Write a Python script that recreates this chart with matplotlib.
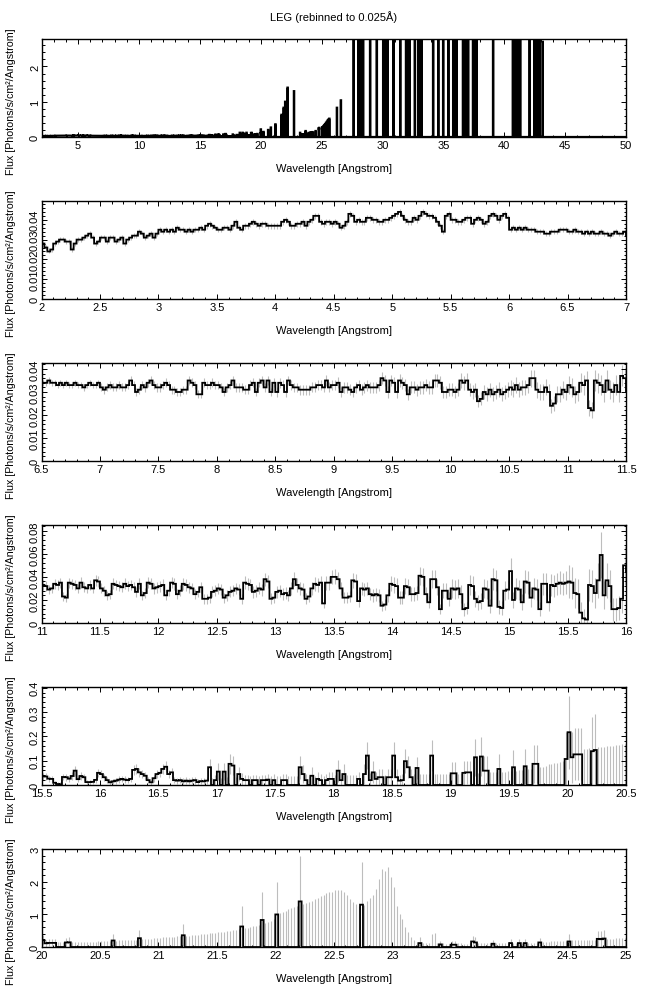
import numpy as np
import matplotlib
matplotlib.use("Agg")
import matplotlib.pyplot as plt
from matplotlib.ticker import MultipleLocator, FuncFormatter

plt.rcParams['font.family'] = ['Liberation Sans', 'DejaVu Sans']

BIN = 0.025  # Angstrom

# ---------------- data ----------------
# Segment A: 2.000-6.975 A, flux in 1e-3 ph/s/cm2/A, error in 1e-4
flux_a = [
    28, 26, 24, 25, 28, 29, 30, 30, 29, 29, 25, 28, 30, 30, 31, 32, 33, 31, 28, 29,
    31, 31, 29, 31, 31, 29, 30, 31, 28, 30, 31, 32, 32, 34, 33, 31, 32, 33, 31, 33,
    35, 34, 35, 34, 35, 34, 36, 35, 35, 34, 35, 34, 35, 35, 36, 35, 37, 38, 37, 36,
    35, 35, 36, 36, 35, 37, 39, 36, 35, 37, 37, 38, 39, 38, 37, 38, 38, 37, 37, 37,
    37, 37, 39, 40, 39, 37, 37, 38, 38, 39, 37, 39, 40, 42, 42, 39, 38, 39, 39, 38,
    39, 38, 36, 37, 39, 43, 42, 39, 40, 39, 39, 41, 41, 40, 40, 39, 39, 40, 40, 41,
    42, 43, 44, 42, 40, 39, 39, 41, 40, 42, 44, 43, 42, 42, 41, 39, 37, 34, 42, 43,
    40, 40, 39, 39, 40, 41, 41, 38, 40, 41, 40, 38, 39, 42, 43, 42, 40, 42, 43, 41,
    35, 36, 35, 36, 35, 36, 35, 35, 35, 34, 34, 34, 33, 33, 34, 34, 34, 35, 35, 35,
    34, 34, 35, 34, 34, 33, 34, 33, 34, 33, 33, 34, 33, 33, 32, 33, 34, 33, 33, 34]
err_a = [
    11, 11, 10, 11, 11, 12, 12, 12, 11, 11, 11, 11, 12, 12, 12, 12, 12, 12, 11, 11,
    12, 12, 11, 12, 12, 11, 12, 12, 11, 12, 12, 12, 12, 13, 12, 12, 12, 12, 12, 12,
    13, 13, 13, 13, 13, 13, 13, 13, 13, 13, 13, 13, 13, 13, 13, 13, 14, 14, 14, 13,
    13, 13, 14, 14, 13, 14, 14, 14, 13, 14, 14, 14, 14, 14, 14, 14, 14, 14, 14, 14,
    14, 14, 14, 15, 14, 14, 14, 14, 14, 14, 14, 14, 15, 15, 15, 14, 14, 14, 14, 14,
    15, 14, 14, 14, 15, 15, 15, 15, 15, 15, 15, 15, 15, 15, 15, 15, 15, 15, 15, 15,
    15, 16, 16, 15, 15, 15, 15, 15, 15, 15, 16, 16, 15, 15, 15, 15, 15, 14, 15, 16,
    15, 15, 15, 15, 15, 15, 15, 15, 15, 15, 15, 15, 15, 16, 16, 16, 15, 15, 16, 15,
    14, 14, 14, 14, 14, 14, 14, 14, 14, 14, 14, 14, 14, 14, 14, 14, 14, 14, 14, 14,
    14, 14, 15, 14, 14, 14, 14, 14, 14, 14, 14, 14, 14, 14, 14, 14, 14, 14, 14, 14]

# Segment B: 7.000-10.975 A (1e-3 / 1e-4)
flux_b = [
    32, 31, 32, 33, 32, 32, 33, 32, 32, 33, 35, 33, 30, 31, 33, 32, 34, 35, 33, 32,
    32, 33, 34, 33, 31, 31, 30, 30, 31, 31, 35, 34, 33, 29, 29, 34, 33, 33, 34, 33,
    33, 32, 30, 32, 33, 35, 32, 32, 32, 31, 31, 33, 34, 30, 34, 35, 32, 35, 30, 34,
    30, 34, 33, 30, 35, 33, 32, 32, 31, 31, 31, 31, 32, 32, 33, 33, 32, 35, 32, 33,
    33, 34, 30, 32, 32, 31, 30, 32, 33, 31, 32, 33, 32, 32, 32, 33, 36, 35, 30, 35,
    34, 30, 35, 34, 33, 29, 32, 32, 31, 32, 32, 33, 32, 32, 35, 35, 34, 30, 30, 31,
    31, 30, 31, 35, 34, 35, 31, 30, 31, 26, 27, 30, 29, 31, 29, 30, 31, 29, 30, 31,
    32, 31, 33, 31, 32, 32, 33, 36, 36, 31, 30, 30, 32, 30, 24, 25, 29, 29, 31, 30]
err_b = [
    17, 17, 17, 18, 17, 17, 18, 17, 17, 18, 18, 18, 17, 17, 18, 18, 18, 18, 18, 18,
    18, 18, 19, 18, 18, 18, 18, 18, 18, 18, 19, 19, 19, 18, 18, 19, 19, 19, 19, 19,
    19, 19, 19, 19, 19, 20, 19, 19, 19, 19, 19, 20, 20, 19, 20, 20, 20, 20, 19, 20,
    20, 21, 21, 20, 21, 21, 21, 21, 21, 21, 21, 21, 22, 22, 22, 22, 22, 22, 22, 22,
    23, 23, 22, 23, 23, 23, 22, 23, 24, 23, 23, 24, 24, 24, 24, 24, 26, 26, 24, 26,
    26, 25, 27, 26, 26, 25, 26, 26, 26, 27, 27, 27, 27, 27, 28, 28, 28, 27, 27, 28,
    28, 28, 29, 31, 30, 31, 29, 29, 30, 27, 28, 30, 30, 31, 30, 31, 32, 31, 32, 33,
    33, 33, 34, 33, 34, 34, 35, 37, 37, 34, 34, 34, 35, 35, 31, 32, 35, 35, 36, 36]

# Segment C: 11.000-15.475 A (1e-3 / 1e-4)
flux_c = [
    33, 32, 29, 30, 34, 33, 35, 23, 22, 35, 34, 33, 30, 35, 31, 30, 33, 30, 37, 36,
    30, 28, 24, 25, 34, 33, 32, 31, 34, 32, 33, 31, 27, 34, 24, 26, 35, 34, 30, 31,
    32, 33, 24, 28, 35, 34, 25, 28, 34, 33, 31, 30, 25, 27, 31, 21, 21, 22, 27, 28,
    30, 29, 22, 24, 27, 28, 30, 29, 21, 35, 34, 33, 27, 28, 30, 29, 38, 36, 21, 22,
    27, 28, 25, 26, 24, 30, 38, 33, 30, 29, 21, 23, 30, 34, 33, 35, 17, 35, 35, 40,
    40, 38, 30, 22, 22, 23, 37, 36, 19, 30, 29, 30, 25, 24, 25, 24, 15, 16, 24, 34,
    33, 32, 22, 22, 32, 31, 25, 25, 26, 41, 40, 25, 18, 38, 38, 31, 12, 28, 28, 21,
    30, 29, 30, 25, 12, 13, 33, 32, 21, 18, 19, 30, 29, 15, 38, 37, 14, 13, 28, 29,
    45, 20, 30, 29, 18, 36, 35, 22, 30, 29, 12, 34, 34, 18, 33, 32, 34, 35, 34, 35]
err_c = [
    40, 40, 38, 40, 42, 42, 43, 36, 35, 44, 44, 43, 42, 45, 42, 42, 44, 42, 46, 46,
    43, 42, 40, 40, 46, 45, 45, 45, 46, 45, 46, 45, 43, 47, 41, 42, 48, 48, 45, 46,
    47, 48, 42, 45, 50, 50, 44, 46, 50, 50, 49, 48, 45, 46, 49, 42, 42, 43, 47, 48,
    50, 50, 44, 46, 48, 49, 50, 50, 44, 55, 54, 54, 50, 51, 52, 52, 58, 57, 46, 47,
    52, 53, 51, 52, 50, 55, 62, 58, 56, 55, 48, 50, 56, 60, 58, 60, 42, 60, 60, 64,
    65, 64, 58, 50, 50, 51, 64, 63, 47, 58, 57, 58, 54, 54, 55, 54, 44, 45, 55, 64,
    70, 68, 58, 58, 70, 69, 62, 62, 63, 80, 78, 62, 52, 78, 77, 70, 46, 66, 66, 60,
    80, 80, 82, 76, 55, 56, 86, 85, 70, 65, 66, 83, 82, 60, 95, 94, 60, 58, 82, 84,
    115, 70, 88, 87, 70, 98, 97, 78, 88, 88, 60, 96, 96, 72, 95, 94, 96, 98, 96, 98]

# Segment D: 15.500-19.975 A (flux and error in 1e-3)
flux_d = [
    36, 35, 26, 25, 9, 4, 3, 33, 32, 26, 37, 59, 24, 37, 32, 12, 12, 13, 21, 50,
    45, 32, 20, 11, 15, 18, 22, 25, 22, 20, 25, 62, 66, 52, 45, 38, 20, 11, 28, 45,
    50, 66, 75, 45, 52, 20, 18, 20, 15, 18, 15, 18, 20, 12, 16, 15, 18, 73, 0, 20,
    55, 0, 55, 0, 87, 80, 0, 45, 25, 20, 20, 0, 20, 20, 0, 20, 20, 22, 0, 20,
    0, 0, 20, 20, 0, 0, 0, 0, 73, 45, 20, 0, 38, 0, 25, 20, 0, 20, 25, 25,
    0, 59, 20, 45, 0, 0, 0, 0, 25, 0, 45, 121, 20, 52, 25, 32, 32, 0, 32, 32,
    121, 32, 18, 20, 98, 73, 32, 0, 70, 0, 0, 0, 0, 121, 0, 0, 0, 0, 0, 0,
    48, 48, 0, 0, 50, 52, 52, 0, 114, 0, 117, 59, 59, 0, 0, 0, 66, 0, 0, 0,
    0, 73, 0, 0, 0, 77, 0, 0, 87, 87, 0, 0, 0, 0, 0, 0, 0, 0, 0, 107]
err_d = [
    14, 14, 13, 13, 9, 8, 8, 14, 14, 13, 15, 20, 12, 15, 14, 10, 10, 10, 12, 17,
    16, 14, 12, 9, 11, 12, 13, 14, 13, 12, 14, 20, 21, 19, 17, 16, 12, 9, 14, 17,
    18, 21, 23, 18, 19, 13, 12, 13, 12, 13, 12, 13, 14, 11, 12, 12, 14, 35, 30, 20,
    35, 30, 35, 32, 42, 40, 32, 30, 25, 22, 22, 35, 22, 22, 35, 22, 22, 24, 36, 24,
    36, 36, 25, 25, 37, 37, 38, 38, 48, 38, 25, 38, 35, 38, 28, 25, 38, 25, 28, 28,
    40, 45, 28, 40, 40, 40, 40, 40, 30, 42, 42, 55, 28, 45, 30, 32, 32, 42, 32, 32,
    56, 33, 25, 26, 50, 45, 33, 44, 45, 44, 44, 45, 45, 62, 45, 45, 46, 46, 46, 47,
    45, 45, 47, 48, 48, 48, 48, 50, 76, 50, 80, 59, 59, 52, 52, 53, 62, 54, 55, 56,
    57, 69, 58, 60, 62, 71, 64, 66, 79, 79, 72, 75, 80, 85, 88, 90, 92, 95, 98, 110]

# Segment E: 20.000-24.975 A (flux and error in 1e-3)
flux_e = [
    217, 114, 126, 126, 126, 0, 0, 0, 139, 144, 0, 0, 0, 0, 0, 0, 0, 0, 0, 0,
    0, 0, 0, 0, 200, 0, 0, 0, 0, 0, 0, 0, 0, 270, 0, 0, 0, 0, 0, 0,
    0, 0, 0, 0, 0, 0, 0, 0, 360, 0, 0, 0, 0, 0, 0, 0, 0, 0, 0, 0,
    0, 0, 0, 0, 0, 0, 0, 0, 630, 0, 0, 0, 0, 0, 0, 830, 0, 0, 0, 0,
    1000, 0, 0, 0, 0, 0, 0, 0, 1400, 0, 0, 0, 0, 0, 0, 0, 0, 0, 0, 0,
    0, 0, 0, 0, 0, 0, 0, 0, 0, 1300, 0, 0, 0, 0, 0, 0, 0, 0, 0, 0,
    0, 0, 0, 0, 0, 0, 0, 0, 0, 120, 0, 0, 0, 0, 0, 0, 80, 0, 0, 0,
    70, 70, 0, 0, 0, 0, 0, 170, 140, 0, 0, 0, 0, 0, 100, 0, 0, 0, 0, 0,
    120, 0, 0, 120, 0, 120, 0, 0, 0, 0, 140, 0, 0, 0, 0, 0, 0, 0, 0, 0,
    170, 0, 0, 0, 0, 0, 0, 0, 0, 0, 250, 240, 260, 0, 0, 0, 0, 0, 0, 0]
err_e = [
    150, 105, 107, 107, 107, 150, 150, 152, 140, 149, 155, 156, 158, 160, 160, 162, 163, 165, 168, 170,
    175, 180, 185, 190, 200, 195, 200, 205, 210, 215, 220, 225, 230, 250, 240, 245, 250, 260, 270, 280,
    290, 295, 300, 310, 315, 320, 325, 330, 360, 345, 350, 360, 370, 380, 390, 400, 410, 420, 430, 440,
    455, 465, 475, 490, 500, 510, 525, 540, 620, 570, 590, 610, 630, 650, 680, 850, 730, 760, 800, 850,
    1000, 1050, 1080, 1120, 1160, 1200, 1230, 1260, 1380, 1330, 1360, 1390, 1420, 1460, 1500, 1560, 1610, 1650, 1680, 1700,
    1750, 1760, 1740, 1700, 1600, 1480, 1380, 1320, 1270, 1320, 1300, 1400, 1500, 1600, 1780, 2080, 2390, 2340, 2470, 2140,
    1830, 1270, 1000, 850, 610, 460, 300, 200, 150, 200, 130, 130, 120, 400, 420, 120, 110, 110, 100, 100,
    100, 100, 110, 110, 100, 100, 110, 180, 170, 110, 110, 110, 110, 110, 100, 120, 110, 110, 110, 110,
    120, 110, 110, 120, 110, 120, 110, 110, 120, 120, 140, 150, 160, 160, 170, 170, 180, 180, 190, 190,
    230, 200, 200, 200, 210, 210, 210, 220, 220, 230, 250, 250, 260, 250, 260, 260, 270, 270, 280, 280]

# Long-wavelength part (25-50 A) shown only in the overview: non-zero bins
tail_wave = [25.05, 25.125, 25.2, 25.275, 25.35, 25.425, 25.5, 25.575, 25.625,
             26.25, 26.575,
             27.625, 28.025, 28.075, 28.125, 28.175, 28.225, 28.3, 28.4, 28.975,
             29.525, 30.05, 30.1, 30.2, 30.3, 30.4, 30.9, 31.45, 31.925, 31.975,
             32.05, 32.125, 32.225, 32.65, 32.925, 32.975, 33.05, 33.125, 33.2,
             34.15, 34.575, 34.975, 35.4, 35.8, 35.85, 35.925, 36.0, 36.075,
             36.6, 36.65, 36.725, 36.8, 36.875, 36.95, 37.025, 37.425, 37.5,
             37.575, 37.65, 37.7, 39.075, 40.7, 40.75, 40.8, 40.85, 40.9, 40.95,
             41.0, 41.05, 41.1, 41.15, 41.2, 41.25, 41.3, 42.075, 42.475, 42.525,
             42.6, 42.675, 42.75, 42.825, 42.875, 43.15]
tail_flux = [0.28, 0.30, 0.33, 0.36, 0.40, 0.43, 0.47, 0.50, 0.52,
             0.83, 1.04] + [5.0] * 71 + [2.7]

# ---------------- build arrays ----------------
for f, e in [(flux_a, err_a), (flux_b, err_b), (flux_c, err_c), (flux_d, err_d), (flux_e, err_e)]:
    assert len(f) == len(e), (len(f), len(e))
assert len(tail_wave) == len(tail_flux), (len(tail_wave), len(tail_flux))

flux = np.concatenate([np.array(flux_a) * 1e-3, np.array(flux_b) * 1e-3,
                       np.array(flux_c) * 1e-3, np.array(flux_d) * 1e-3,
                       np.array(flux_e) * 1e-3])
err = np.concatenate([np.array(err_a) * 1e-4, np.array(err_b) * 1e-4,
                      np.array(err_c) * 1e-4, np.array(err_d) * 1e-3,
                      np.array(err_e) * 1e-3])
lam0 = 2.0
edges = lam0 + BIN * np.arange(len(flux) + 1)
centers = edges[:-1] + BIN / 2
lam_end = edges[-1]

n_tail = int(round((50.0 - lam_end) / BIN))
tail = np.zeros(n_tail)
for w, v in zip(tail_wave, tail_flux):
    tail[int(round((w - lam_end) / BIN))] = v
all_flux = np.concatenate([flux, tail])
all_edges = lam0 + BIN * np.arange(len(all_flux) + 1)

# ---------------- figure ----------------
W, H = 647, 995
fig = plt.figure(figsize=(W / 100, H / 100), dpi=100)
left_px, right_px = 41.5, 626.0
tops = [40, 202, 364, 526, 688, 850]
hgt = 98

panels = [
    dict(x=(2, 50), ytop=2.78, xmaj=5, xmin=1, ymaj=1, ymin=0.2),
    dict(x=(2, 7), ytop=0.0495, xmaj=0.5, xmin=0.1, ymaj=0.01, ymin=0.002),
    dict(x=(6.5, 11.5), ytop=0.0426, xmaj=0.5, xmin=0.1, ymaj=0.01, ymin=0.002),
    dict(x=(11, 16), ytop=0.085, xmaj=0.5, xmin=0.1, ymaj=0.02, ymin=0.004),
    dict(x=(15.5, 20.5), ytop=0.403, xmaj=0.5, xmin=0.1, ymaj=0.1, ymin=0.02),
    dict(x=(20, 25), ytop=3.01, xmaj=0.5, xmin=0.1, ymaj=1, ymin=0.2),
]

fmt = FuncFormatter(lambda v, p: ('%g' % round(v, 6)))

for i, p in enumerate(panels):
    ax = fig.add_axes([left_px / W, 1 - (tops[i] + hgt) / H,
                       (right_px - left_px) / W, hgt / H])
    if i == 0:
        ax.stairs(all_flux, all_edges, baseline=None, color='black', lw=1.6, zorder=2)
    else:
        ax.vlines(centers, flux - err, flux + err, color='#bdbdbd', lw=0.8, zorder=1)
        ax.stairs(flux, edges, baseline=None, color='black', lw=1.3, zorder=2)
    ax.set_xlim(*p['x'])
    ax.set_ylim(0, p['ytop'])
    ax.xaxis.set_major_locator(MultipleLocator(p['xmaj']))
    ax.xaxis.set_minor_locator(MultipleLocator(p['xmin']))
    ax.yaxis.set_major_locator(MultipleLocator(p['ymaj']))
    ax.yaxis.set_minor_locator(MultipleLocator(p['ymin']))
    ax.xaxis.set_major_formatter(fmt)
    ax.yaxis.set_major_formatter(fmt)
    ax.tick_params(which='both', direction='in', top=True, right=True,
                   labelsize=8, width=0.7)
    ax.tick_params(which='major', length=3.6)
    ax.tick_params(which='minor', length=1.8)
    ax.tick_params(axis='x', pad=2)
    ax.tick_params(axis='y', pad=1, labelrotation=90)
    for lab in ax.get_yticklabels():
        lab.set_va('center')
    for s in ax.spines.values():
        s.set_linewidth(1.0)
    ax.set_xlabel('Wavelength [Angstrom]', fontsize=8)
    ax.xaxis.set_label_coords(0.5, -0.265)
    ax.set_ylabel('Flux [Photons/s/cm²/Angstrom]', fontsize=7.7)
    ax.yaxis.set_label_coords(-0.043, 0.37)

fig.text((left_px + right_px) / 2 / W, 1 - 17 / H, 'LEG (rebinned to 0.025Å)',
         ha='center', va='center', fontsize=8)

fig.savefig('out.png', dpi=100)
